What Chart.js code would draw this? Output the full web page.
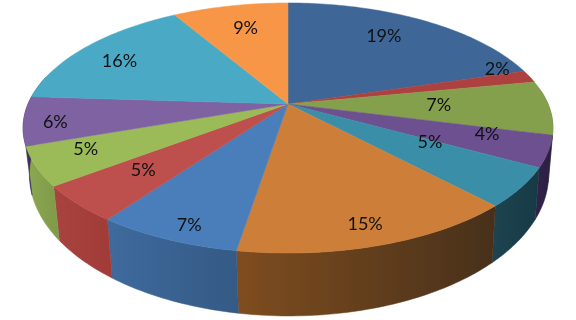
<!DOCTYPE html>
<html>
<head>
<meta charset="utf-8">
<style>html,body{margin:0;padding:0;background:#fff}canvas{display:block}</style>
<script src="https://cdn.jsdelivr.net/npm/chart.js@4"></script>
</head>
<body>
<canvas id="c" width="576" height="320"></canvas>
<script>
const categories = ['1','2','3','4','5','6','7','8','9','10','11','12'];
const values = [19.4,1.6,7,4,5,14.6,7.4,4.7,5,6.3,16,9];
const topColors = ['#3e6797','#ae4040','#84a04c','#6d5090','#3a8ea7','#cd7e38','#4a7ebb','#bd4f4c','#9bbb59','#7f62a2','#4aaac6','#f79646'];
const wallLeft  = ['#3e6797','#7a2c2c','#5c7035','#32224a','#1d4450','#7f4d1f','#3f6a9d','#a8433f','#8da852','#453260','#2a6070','#a8642e'];
const wallRight = ['#3e6797','#7a2c2c','#5c7035','#2c1f42','#173a45','#47301a','#345a85','#a03b38','#7f9a48','#382a50','#2a6070','#a8642e'];
const labelOffsets = [[-3,-7],[38,-15],[-32,-1],[21,-2],[-15,-18],[16,28],[-19,32],[-4,0],[-31,3],[-49,6],[-25,-1],[0,-4]];

const X_SCALE = 2.5, Y_SCALE = 1.158, PERSPECTIVE = 0.192;
const TWIST = 3.5 * Math.PI / 180, TWIST_SPAN = Math.PI / 3;

function warp(t){
  const s = t > Math.PI ? t - 2 * Math.PI : t;
  return t + TWIST * Math.min(1, Math.abs(s) / TWIST_SPAN);
}
function project(el, t, r){
  const w = warp(t), x = r * Math.sin(w), y = -r * Math.cos(w), den = 1 - PERSPECTIVE * y;
  return { x: el.x + el.outerRadius * X_SCALE * x / den, y: el.y + el.outerRadius * Y_SCALE * y / den };
}
function lower(el, p){
  return { x: el.x + (p.x - el.x) * 0.98 + 1, y: p.y + 30 + 0.13 * p.y };
}
function samples(a, b){
  const pts = [], n = Math.max(2, Math.ceil((b - a) / (Math.PI / 180)));
  for (let i = 0; i <= n; i++) pts.push(a + (b - a) * i / n);
  return pts;
}
const pie3d = {
  id: 'pie3d',
  beforeDatasetsDraw(chart){
    const ctx = chart.ctx, arcs = chart.getDatasetMeta(0).data;
    const total = values.reduce((s, v) => s + v, 0);
    const wallFrom = 80 * Math.PI / 180, wallTo = 280 * Math.PI / 180;
    ctx.save();
    arcs.forEach((el, i) => {
      const a = Math.max(el.startAngle + Math.PI / 2, wallFrom);
      const b = Math.min(el.endAngle + Math.PI / 2, wallTo);
      if (b <= a) return;
      const ts = samples(a, b);
      const tops = ts.map(t => project(el, t, 1));
      const bots = tops.map(p => lower(el, p));
      const xs = tops.concat(bots).map(p => p.x);
      const g = ctx.createLinearGradient(Math.min(...xs), 0, Math.max(...xs), 0);
      g.addColorStop(0, wallLeft[i]);
      g.addColorStop(1, wallRight[i]);
      ctx.beginPath();
      tops.forEach((p, k) => k ? ctx.lineTo(p.x, p.y) : ctx.moveTo(p.x, p.y));
      bots.reverse().forEach(p => ctx.lineTo(p.x, p.y));
      ctx.closePath();
      ctx.fillStyle = g;
      ctx.strokeStyle = g;
      ctx.lineWidth = 0.5;
      ctx.fill();
      ctx.stroke();
    });
    arcs.forEach((el) => {
      const ts = samples(el.startAngle + Math.PI / 2, el.endAngle + Math.PI / 2);
      ctx.beginPath();
      ctx.moveTo(el.x, el.y);
      ts.forEach(t => { const p = project(el, t, 1); ctx.lineTo(p.x, p.y); });
      ctx.closePath();
      ctx.fillStyle = el.options.backgroundColor;
      ctx.strokeStyle = el.options.backgroundColor;
      ctx.lineWidth = 0.5;
      ctx.fill();
      ctx.stroke();
    });
    ctx.font = '18px Lato';
    ctx.fillStyle = '#111';
    ctx.textAlign = 'center';
    ctx.textBaseline = 'middle';
    arcs.forEach((el, i) => {
      const mid = (el.startAngle + el.endAngle) / 2 + Math.PI / 2;
      const p = project(el, mid, 0.7);
      ctx.fillText(Math.round(values[i] / total * 100) + '%', p.x + labelOffsets[i][0], p.y + labelOffsets[i][1]);
    });
    ctx.restore();
    return false;
  }
};
new Chart(document.getElementById('c'), {
  type: 'pie',
  data: { labels: categories, datasets: [{ data: values, backgroundColor: topColors, borderWidth: 0 }] },
  options: {
    responsive: false,
    animation: false,
    layout: { padding: { bottom: 112 } },
    plugins: { legend: { display: false }, tooltip: { enabled: false } }
  },
  plugins: [pie3d]
});
</script>
</body>
</html>
